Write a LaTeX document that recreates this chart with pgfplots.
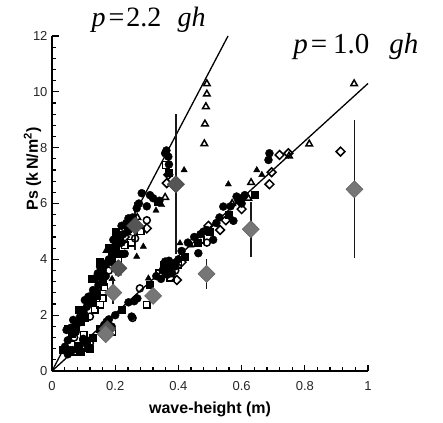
\documentclass[border=0pt]{standalone}
\usepackage{fontspec}
\setmainfont{Liberation Sans}
\newfontfamily\tnr{Liberation Serif}
\usepackage{pgfplots}
\pgfplotsset{compat=1.18}
\definecolor{gdark}{HTML}{555555}
\definecolor{glight}{HTML}{767676}
\pgfplotsset{
  fc/.style={only marks, mark=*, mark size=4.0pt, mark options={fill=black,draw=black}},
  fs/.style={only marks, mark=square*, mark size=3.5pt, mark options={fill=black,draw=black}},
  os/.style={only marks, mark=square, mark size=3.3pt, mark options={draw=black,line width=1.5pt}},
  oc/.style={only marks, mark=o, mark size=3.5pt, mark options={draw=black,line width=1.5pt}},
  ft/.style={only marks, mark=triangle*, mark size=3.6pt, mark options={fill=black,draw=black}},
  ot/.style={only marks, mark=triangle, mark size=3.8pt, mark options={draw=black,line width=1.5pt}},
  od/.style={only marks, mark=diamond, mark size=4.4pt, mark options={draw=black,line width=1.5pt,xscale=1.33}},
}
\begin{document}
\begin{tikzpicture}
\begin{axis}[
  scale only axis, width=316pt, height=335pt,
  xmin=0, xmax=1, ymin=0, ymax=12,
  axis lines=left, axis line style={-, line width=1.7pt},
  clip=false,
  xtick={0,0.2,0.4,0.6,0.8,1}, ytick={0,2,4,6,8,10,12},
  xticklabels={0,0.2,0.4,0.6,0.8,1},
  yticklabels={0,2,4,6,8,10,12},
  minor x tick num=4, minor y tick num=4,
  tick align=inside,
  major tick length=6.5pt, minor tick length=4pt,
  tick style={line width=1.3pt, black},
  /pgf/number format/assume math mode=true,
  x tick label style={font=\fontsize{13}{15}\selectfont, text=black!85, yshift=-7pt},
  y tick label style={font=\fontsize{13}{15}\selectfont, text=black!85, xshift=-1pt},
  xlabel={\textbf{wave-height (m)}},
  ylabel={\textbf{Ps (k\,N/m\textsuperscript{2})}},
  label style={font=\fontsize{16}{18}\selectfont},
  xlabel style={at={(axis description cs:0.5,-0.115)}, anchor=center},
  ylabel style={at={(axis description cs:-0.062,0.603)}, anchor=center},
]
% upper band
\addplot[fc] coordinates {(0.041,0.87)(0.057,0.75)(0.046,1.47)(0.067,1.83)(0.089,1.95)(0.104,2.54)(0.115,2.66)(0.141,2.84)(0.147,3.08)(0.136,3.32)(0.152,3.74)(0.173,3.86)(0.184,4.34)(0.194,4.7)(0.205,4.93)(0.22,4.6)(0.242,5.47)(0.268,5.83)(0.284,6.37)(0.32,6.19)(0.358,7.8)(0.368,7.68)(0.22,5.2)(0.23,4.2)(0.17,3.4)(0.06,1.55)(0.08,1.7)(0.1,2.1)(0.125,2.7)(0.16,3.6)(0.19,3.9)(0.2,4.3)(0.215,4.75)(0.25,5.2)(0.3,5.9)(0.34,6.1)
 (0.09,1.85)(0.11,2.3)(0.13,2.9)(0.145,3.5)(0.165,3.8)(0.18,4.0)(0.205,4.5)(0.225,4.9)(0.235,5.3)(0.255,5.5)(0.37,7.4)(0.362,7.9)(0.05,1.1)(0.075,1.4)(0.275,6.0)(0.31,6.3)};
\addplot[fs] coordinates {(0.05,1.5)(0.062,1.35)(0.075,1.6)(0.09,1.75)(0.11,1.1)(0.12,0.8)(0.13,2.5)(0.155,3.5)(0.16,3.2)(0.19,4.1)(0.2,4.5)(0.24,5.1)(0.336,6.07)(0.37,7.1)(0.085,0.9)(0.14,2.7)(0.035,0.75)(0.18,4.4)(0.125,3.3)(0.15,3.9)(0.2,5.0)(0.215,4.2)(0.105,1.9)(0.085,2.2)};
\addplot[os] coordinates {(0.125,2.43)(0.152,2.37)(0.135,2.2)(0.068,0.7)(0.1,1.3)(0.25,4.6)(0.28,5.0)(0.21,4.0)(0.165,3.0)(0.36,7.38)(0.06,0.95)(0.16,2.6)(0.23,4.5)};
\addplot[oc] coordinates {(0.12,1.95)(0.099,1.15)(0.263,4.75)(0.07,1.2)(0.18,3.6)(0.3,5.4)};
\addplot[ft] coordinates {(0.418,7.2)(0.347,5.95)(0.329,5.75)(0.289,4.46)(0.268,4.1)(0.242,4.93)(0.21,3.5)(0.19,3.3)(0.17,4.3)};
\addplot[ot] coordinates {(0.49,10.29)(0.49,9.92)(0.487,9.47)(0.484,8.85)(0.482,8.14)(0.358,6.22)(0.27,5.5)(0.2,3.7)};
\addplot[od] coordinates {(0.3,5.11)(0.363,6.73)(0.368,7.03)(0.26,5.3)(0.23,4.8)(0.16,3.3)};
% lower band
\addplot[fc] coordinates {(0.099,1.11)(0.173,1.77)(0.189,1.59)(0.157,1.47)(0.252,1.95)(0.242,2.46)(0.358,3.92)(0.37,3.7)(0.38,3.5)(0.345,3.3)(0.463,4.22)(0.479,4.99)(0.51,4.7)(0.542,5.89)(0.574,5.38)(0.584,6.25)(0.6,6.19)(0.688,7.8)(0.685,7.56)(0.43,4.6)(0.45,4.8)(0.52,5.3)(0.6,6.0)(0.27,2.6)(0.05,0.6)(0.08,0.8)(0.2,2.0)(0.4,4.0)(0.33,3.4)(0.37,3.95)(0.39,3.75)(0.59,6.1)
 (0.165,1.65)(0.18,1.85)(0.26,2.5)(0.35,3.6)(0.365,3.45)(0.385,3.85)(0.41,4.3)(0.47,4.9)(0.49,5.05)(0.53,5.5)(0.565,5.9)(0.61,6.3)(0.065,0.75)(0.11,0.95)};
\addplot[fs] coordinates {(0.13,1.2)(0.22,2.2)(0.31,3.1)(0.42,4.1)(0.5,5.0)(0.56,5.6)(0.64,6.3)(0.15,1.5)(0.115,0.85)(0.355,3.8)(0.46,4.6)(0.09,0.7)};
\addplot[os] coordinates {(0.3,2.37)(0.19,1.4)(0.4,3.8)(0.47,4.7)(0.34,3.5)(0.375,3.35)};
\addplot[oc] coordinates {(0.278,2.96)(0.39,3.6)(0.49,4.6)(0.12,1.0)(0.255,1.9)};
\addplot[ft] coordinates {(0.305,3.32)(0.405,4.58)(0.648,7.2)(0.664,7.03)(0.558,6.69)(0.44,4.5)(0.36,3.8)};
\addplot[ot] coordinates {(0.63,6.75)(0.621,6.19)(0.814,8.13)(0.956,10.29)(0.57,6.0)(0.75,7.7)};
\addplot[od] coordinates {(0.395,3.26)(0.532,5.05)(0.72,7.74)(0.748,7.8)(0.695,7.12)(0.688,6.69)(0.913,7.86)(0.495,5.2)(0.41,3.9)(0.55,5.4)(0.6,5.8)};
% fitted lines
\addplot[black, line width=1.3pt] coordinates {(0,0)(0.557,12)};
\addplot[black, line width=1.3pt] coordinates {(0,0)(1.0,10.3)};
% mean values with error bars
\addplot[only marks, mark=diamond*, mark size=8.5pt,
  mark options={fill=gdark, draw=black!70, line width=0.6pt, xscale=1.33},
  error bars/.cd, y dir=both, y explicit, error mark=none,
  error bar style={line width=1.8pt, black!90}]
  coordinates {(0.175,1.5) +- (0,0) (0.21,3.68) +- (0,0) (0.263,5.2) +- (0,0.85) (0.392,6.69) +- (0,2.5)};
\addplot[only marks, mark=diamond*, mark size=8.5pt,
  mark options={fill=glight, draw=black!60, line width=0.6pt, xscale=1.33},
  error bars/.cd, y dir=both, y explicit, error mark=none,
  error bar style={line width=1.8pt, black!90}]
  coordinates {(0.17,1.32) +- (0,0) (0.194,2.81) +- (0,0.4) (0.32,2.69) +- (0,0) (0.489,3.48) +- (0,0.55) (0.629,5.08) +- (0,0.98) (0.957,6.51) +- (0,2.47)};
% annotations
\node[anchor=base west, inner sep=0pt, font=\tnr\fontsize{28}{28}\selectfont] at (axis cs:0.125,12.34) {\textit{p}\hspace{3pt}=\hspace{2pt}2.2\hspace{16pt}\textit{gh}};
\node[anchor=base west, inner sep=0pt, font=\tnr\fontsize{29}{29}\selectfont] at (axis cs:0.763,11.36) {\textit{p}\hspace{3pt}=\hspace{6pt}1.0\hspace{20pt}\textit{gh}};
\path (rel axis cs:-0.1646,-0.1522) rectangle (rel axis cs:1.2373,1.1075);
\end{axis}
\end{tikzpicture}
\end{document}
